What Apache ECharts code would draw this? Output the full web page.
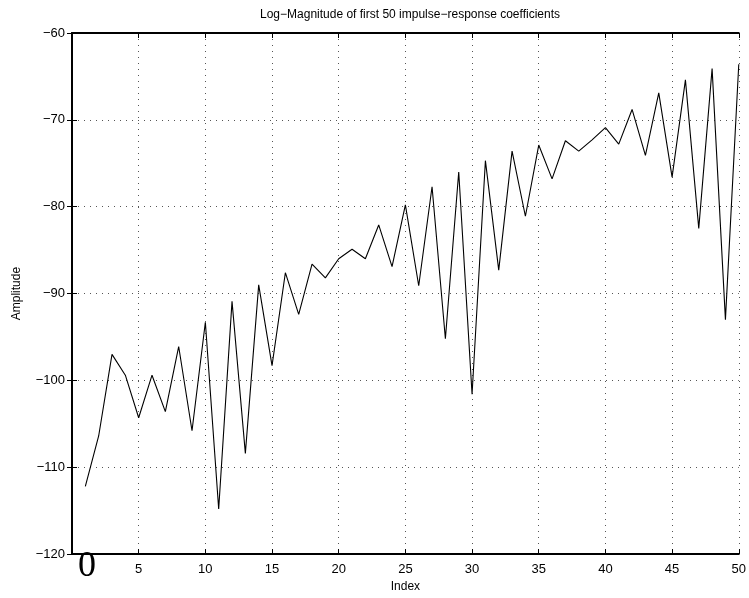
<!DOCTYPE html>
<html>
<head>
<meta charset="utf-8">
<script src="https://cdn.jsdelivr.net/npm/echarts@6/dist/echarts.min.js"></script>
<style>html,body{margin:0;padding:0;background:#fff}#c{width:749px;height:598px}</style>
</head>
<body>
<div id="c"></div>
<script>
const titleText = 'Log\u2212Magnitude of first 50 impulse\u2212response coefficients';
const xName = 'Index';
const yName = 'Amplitude';
const indices = [1,2,3,4,5,6,7,8,9,10,11,12,13,14,15,16,17,18,19,20,21,22,23,24,25,26,27,28,29,30,31,32,33,34,35,36,37,38,39,40,41,42,43,44,45,46,47,48,49,50];
const amplitude = [-112.2,-106.4,-97.0,-99.4,-104.3,-99.4,-103.6,-96.1,-105.8,-93.3,
  -114.8,-90.9,-108.4,-89.0,-98.3,-87.6,-92.4,-86.6,-88.2,-86.0,
  -84.9,-86.0,-82.1,-86.9,-79.8,-89.1,-77.7,-95.2,-76.0,-101.6,
  -74.7,-87.3,-73.6,-81.1,-72.9,-76.8,-72.4,-73.6,-72.3,-70.9,
  -72.8,-68.8,-74.1,-66.9,-76.6,-65.4,-82.5,-64.1,-93.0,-63.6];
const xTicks = [0,5,10,15,20,25,30,35,40,45,50];
const yTicks = [-120,-110,-100,-90,-80,-70,-60];

const font = 'Liberation Sans';
const chart = echarts.init(document.getElementById('c'), null, {renderer:'canvas'});
const tickStyle = {show:true, inside:true, length:5, lineStyle:{color:'#000', width:1}};
const gridLine = {show:true, lineStyle:{color:'#555', width:1, type:[1,5]}};
const data = indices.map((x,i)=>[x, amplitude[i]]);
chart.setOption({
  animation:false,
  backgroundColor:'#fff',
  title:{text:titleText, left:405, top:4, textAlign:'center',
    textStyle:{fontFamily:font, fontSize:12, fontWeight:'normal', color:'#000'}},
  grid:{left:72, top:33, right:10, bottom:39, containLabel:false},
  xAxis:[{
    type:'value', min:xTicks[0], max:xTicks[xTicks.length-1], interval:5,
    name:xName, nameLocation:'middle', nameGap:26,
    nameTextStyle:{fontFamily:font, fontSize:12, color:'#000'},
    axisLine:{show:true, onZero:false, lineStyle:{color:'#000', width:2}},
    axisTick:tickStyle,
    axisLabel:{fontFamily:font, fontSize:13, color:'#000', margin:9,
      formatter:v=> v===0 ? '' : String(v)},
    splitLine:gridLine
  },{
    type:'value', position:'top', min:xTicks[0], max:xTicks[xTicks.length-1], interval:5,
    axisLine:{show:true, lineStyle:{color:'#000', width:2}},
    axisTick:tickStyle, axisLabel:{show:false}, splitLine:{show:false}
  }],
  yAxis:[{
    type:'value', min:yTicks[0], max:yTicks[yTicks.length-1], interval:10,
    name:yName, nameLocation:'middle', nameGap:49, nameRotate:90,
    nameTextStyle:{fontFamily:font, fontSize:12, color:'#000'},
    axisLine:{show:true, onZero:false, lineStyle:{color:'#000', width:2}},
    axisTick:tickStyle,
    axisLabel:{fontFamily:font, fontSize:13, color:'#000', margin:7,
      formatter:v=> String(v).replace('-', '\u2212')},
    splitLine:gridLine
  },{
    type:'value', position:'right', min:yTicks[0], max:yTicks[yTicks.length-1], interval:10,
    axisLine:{show:true, lineStyle:{color:'#000', width:1.5}},
    axisTick:tickStyle, axisLabel:{show:false}, splitLine:{show:false}
  }],
  series:[{
    type:'line', data:data, xAxisIndex:0, yAxisIndex:0,
    showSymbol:false, symbol:'none',
    lineStyle:{color:'#000', width:1.1}
  }],
  graphic:[{
    type:'text', x:87, y:567,
    style:{text:String(xTicks[0]), fontFamily:'Liberation Serif', fontSize:36, fill:'#000',
      align:'center', verticalAlign:'middle'}
  }]
});
</script>
</body>
</html>
